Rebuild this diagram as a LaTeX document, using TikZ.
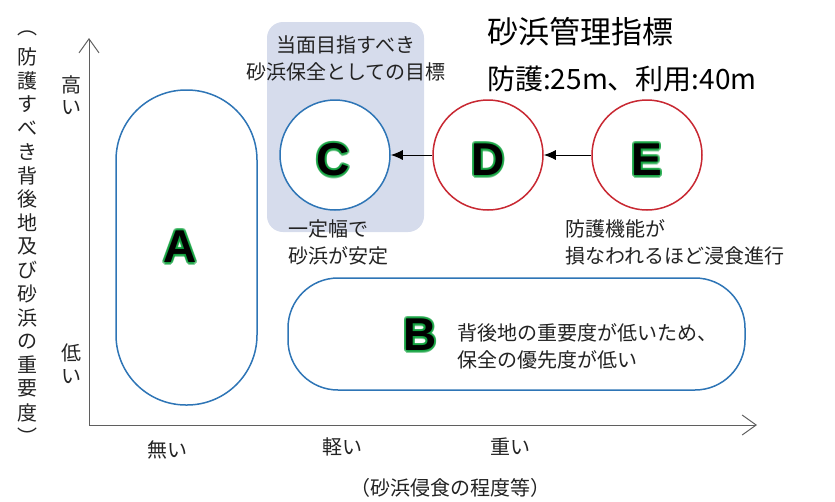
\documentclass[tikz,border=0pt]{standalone}
\usepackage{fontspec}
\setmainfont{Noto Sans CJK JP}
\newfontfamily\letterfont{Liberation Sans Bold}
\usetikzlibrary{arrows.meta,positioning}
\definecolor{zoneblue}{RGB}{46,117,182}
\definecolor{zonered}{RGB}{200,40,50}
\definecolor{goalfill}{RGB}{214,220,236}
\definecolor{glowgreen}{RGB}{15,160,60}
\definecolor{inkgrey}{RGB}{35,35,35}
\definecolor{axisgrey}{RGB}{95,95,95}
\begin{document}
\begin{tikzpicture}[x=1pt,y=-1pt,
    txt/.style={font=\fontsize{20}{27}\selectfont,text=inkgrey,inner sep=0pt},
    big txt/.style={font=\fontsize{31}{40}\selectfont,text=black,inner sep=0pt},
    zone/.style={draw=zoneblue,line width=1.5pt,fill=white},
    ring/.style={circle,minimum size=110pt,line width=1.5pt,fill=white,inner sep=0pt},
    letter/.style={font=\letterfont\fontsize{46}{46}\selectfont,inner sep=0pt},
    glow/.style={letter,text=glowgreen,opacity=0.5},
    axis/.style={axisgrey,line width=1pt,-{Straight Barb[length=14pt,width=20pt]}}]
\useasboundingbox (0,0) rectangle (835,501);
% axes
\coordinate (O) at (89,425);
\coordinate (ytip) at (89,38);
\coordinate (xtip) at (757,425);
\draw[axis] (O) -- (ytip);
\draw[axis] (O) -- (xtip);
% shaded goal box
\node[fill=goalfill,rounded corners=16pt,minimum width=157pt,minimum height=210pt] (goal) at (345.5,127) {};
\node[txt,align=center] (goal-t) at (346,58) {当面目指すべき\\砂浜保全としての目標};
% zones
\node[zone,rounded corners=70pt,minimum width=141pt,minimum height=315pt] (A) at (186.5,247.5) {};
\node[zone,rounded corners=50pt,minimum width=457pt,minimum height=112pt] (B) at (516.5,334) {};
\node[ring,draw=zoneblue] (C) at (335,155) {};
\node[ring,draw=zonered] (D) at (488,155) {};
\node[ring,draw=zonered] (E) at (647,155) {};
\draw[line width=1pt,-{Latex[length=12pt,width=10pt]}] (D) -- (C);
\draw[line width=1pt,-{Latex[length=12pt,width=10pt]}] (E) -- (D);
% letters with glow
\coordinate (A-c) at (180,247);
\coordinate (B-c) at (420,335);
\coordinate (C-c) at ([xshift=-2pt,yshift=-5pt]C);
\coordinate (D-c) at ([yshift=-5pt]D);
\coordinate (E-c) at ([yshift=-5pt]E);
\foreach \L in {A,B,C,D,E}{
  \foreach \a in {0,30,...,330}
    \node[glow] (\L-g\a) at ([shift={(\a:2.2)}]\L-c) {\L};
  \node[letter] (\L-t) at (\L-c) {\L};
}
% texts
\node[big txt,anchor=west] (title) at (487,32) {砂浜管理指標};
\node[big txt,anchor=west,font=\fontsize{28}{36}\selectfont] (title-2) at (487,79) {防護:25m、利用:40m};
\node[txt,align=left,anchor=west] (C-note) at (288,242) {一定幅で\\砂浜が安定};
\node[txt,align=left,anchor=west] (E-note) at (565,242) {防護機能が\\損なわれるほど浸食進行};
\node[txt,align=left,anchor=west] (B-note) at (457,346) {背後地の重要度が低いため、\\保全の優先度が低い};
% axis labels
\node[txt] (x-1) at (167,450) {無い};
\node[txt] (x-2) at (342,447) {軽い};
\node[txt] (x-3) at (510,447) {重い};
\node[txt] (x-cap) at (450,488) {（砂浜侵食の程度等）};
\node[txt] (y-hi1) at (71,85) {高};
\node[txt] (y-hi2) at (71,108) {い};
\node[txt] (y-lo1) at (71,353) {低};
\node[txt] (y-lo2) at (71,377) {い};
\foreach \ch [count=\i] in {︵,防,護,す,べ,き,背,後,地,及,び,砂,浜,の,重,要,度,︶}
  \node[txt] (y-cap\i) at (27,{57+(\i-2)*23.7}) {\ch};
\end{tikzpicture}
\end{document}
